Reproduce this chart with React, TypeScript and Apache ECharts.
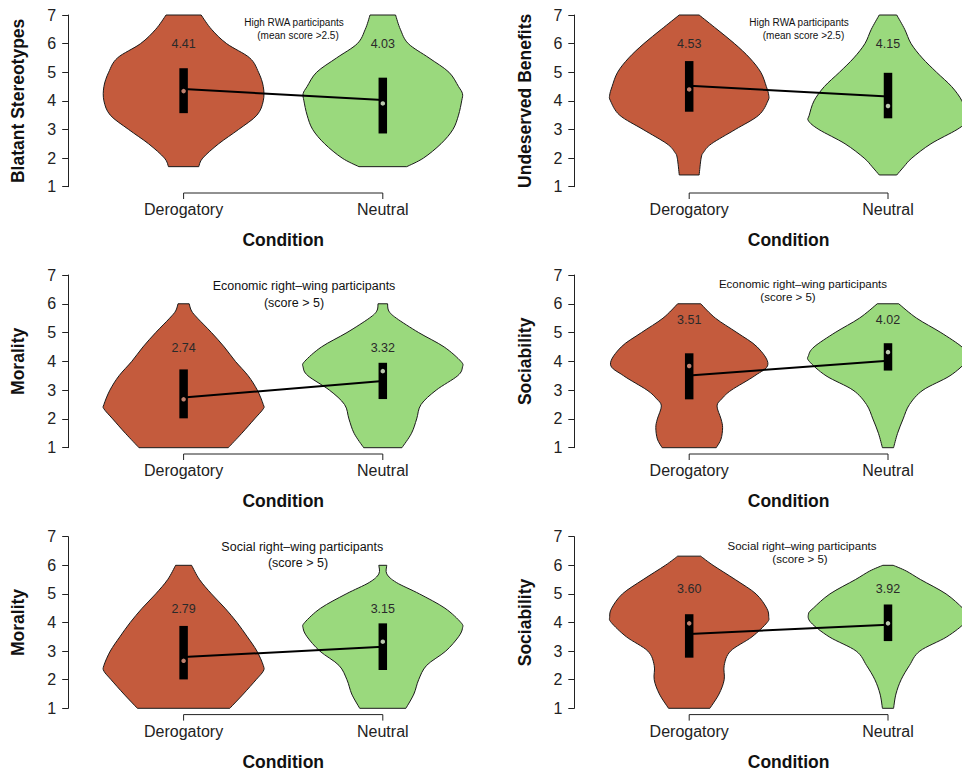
import React, { useEffect, useRef } from "react";
import * as echarts from "echarts";

// ---------------- data ----------------
const conditions = ["Derogatory", "Neutral"];
const yMin = 1;
const yMax = 7;

const panelYTitles = [
  "Blatant Stereotypes",
  "Undeserved Benefits",
  "Morality",
  "Sociability",
  "Morality",
  "Sociability",
];

const panelNotes = [
  ["High RWA participants", "(mean score >2.5)"],
  ["High RWA participants", "(mean score >2.5)"],
  ["Economic right\u2013wing participants", "(score > 5)"],
  ["Economic right\u2013wing participants", "(score > 5)"],
  ["Social right\u2013wing participants", "(score > 5)"],
  ["Social right\u2013wing participants", "(score > 5)"],
];

// means (Derogatory, Neutral) per panel
const means = [
  [4.41, 4.03],
  [4.53, 4.15],
  [2.74, 3.32],
  [3.51, 4.02],
  [2.79, 3.15],
  [3.6, 3.92],
];
// height (score units) at which each mean is printed
const meanLabelY = [
  [5.98, 5.98],
  [5.98, 5.98],
  [4.45, 4.45],
  [5.44, 5.44],
  [4.46, 4.46],
  [5.17, 5.17],
];
// box (interquartile) limits and medians
const boxLow = [
  [3.57, 2.86],
  [3.62, 3.39],
  [2.02, 2.69],
  [2.68, 3.68],
  [2.01, 2.34],
  [2.77, 3.35],
];
const boxHigh = [
  [5.14, 4.81],
  [5.39, 4.98],
  [3.72, 3.95],
  [4.28, 4.63],
  [3.88, 3.97],
  [4.29, 4.63],
];
const medians = [
  [4.34, 3.91],
  [4.4, 3.82],
  [2.68, 3.66],
  [3.84, 4.32],
  [2.66, 3.33],
  [3.97, 3.97],
];

// violin outlines: score levels and relative density (1 = widest point)
const blatantDerogLevels = [1.7, 2, 2.5, 3, 3.5, 4, 4.5, 5, 5.5, 6, 6.5, 7];
const blatantDerogDensity = [0.19, 0.24, 0.44, 0.69, 0.92, 1.0, 1.0, 0.94, 0.83, 0.54, 0.35, 0.22];
const blatantNeutLevels = [1.7, 2, 2.5, 3, 3.5, 4, 4.25, 4.5, 5, 5.5, 6, 6.5, 7];
const blatantNeutDensity = [0.3, 0.51, 0.73, 0.88, 0.95, 0.99, 1.0, 0.95, 0.83, 0.58, 0.32, 0.22, 0.16];

const benefitsDerogLevels = [1.41, 2, 2.2, 2.5, 3, 3.5, 4, 4.2, 4.5, 5, 5.5, 6, 6.5, 7];
const benefitsDerogDensity = [0.125, 0.15, 0.18, 0.28, 0.58, 0.875, 0.99, 1.0, 0.97, 0.9, 0.76, 0.57, 0.35, 0.125];
const benefitsNeutLevels = [1.41, 1.7, 2, 2.5, 3, 3.3, 3.5, 4, 4.5, 5, 5.5, 6, 6.5, 7];
const benefitsNeutDensity = [0.11, 0.2, 0.3, 0.54, 0.87, 1.0, 0.99, 0.93, 0.8, 0.61, 0.43, 0.29, 0.21, 0.11];

const econMoralDerogLevels = [1, 1.5, 2, 2.35, 2.5, 3, 3.5, 4, 4.5, 5, 5.5, 5.75, 6];
const econMoralDerogDensity = [0.56, 0.73, 0.89, 1.0, 1.0, 0.925, 0.81, 0.65, 0.51, 0.35, 0.175, 0.1, 0.07];
const econMoralNeutLevels = [1, 1.5, 2, 2.5, 3, 3.5, 3.8, 4, 4.5, 5, 5.5, 5.75, 6];
const econMoralNeutDensity = [0.24, 0.36, 0.425, 0.48, 0.67, 0.94, 1.0, 0.98, 0.77, 0.45, 0.17, 0.075, 0.06];

const econSocDerogLevels = [1, 1.3, 1.7, 2, 2.45, 2.7, 3, 3.5, 3.9, 4.5, 5, 5.5, 6];
const econSocDerogDensity = [0.34, 0.4, 0.42, 0.4, 0.35, 0.41, 0.53, 0.825, 0.99, 0.855, 0.6, 0.33, 0.145];
const econSocNeutLevels = [1, 1.5, 2, 2.5, 3, 3.5, 4, 4.2, 4.5, 5, 5.5, 6];
const econSocNeutDensity = [0.07, 0.12, 0.19, 0.27, 0.44, 0.78, 0.99, 1.0, 0.93, 0.665, 0.36, 0.135];

const socMoralDerogLevels = [1, 1.5, 2, 2.3, 2.5, 3, 3.5, 4, 4.5, 5, 5.5, 6];
const socMoralDerogDensity = [0.58, 0.75, 0.91, 1.0, 1.0, 0.92, 0.8, 0.67, 0.52, 0.35, 0.2, 0.1];
const socMoralNeutLevels = [1, 1.5, 2, 2.5, 3, 3.5, 3.8, 4, 4.5, 5, 5.4, 5.7, 6];
const socMoralNeutDensity = [0.29, 0.39, 0.45, 0.55, 0.79, 0.95, 1.0, 0.98, 0.78, 0.46, 0.17, 0.05, 0.05];

const socSocDerogLevels = [1, 1.5, 2, 2.5, 3, 3.5, 4, 4.2, 4.5, 5, 5.5, 6, 6.32];
const socSocDerogDensity = [0.26, 0.375, 0.44, 0.44, 0.52, 0.79, 0.98, 1.0, 0.975, 0.84, 0.58, 0.3, 0.145];
const socSocNeutLevels = [1, 1.5, 2, 2.5, 3, 3.5, 4, 4.3, 4.5, 5, 5.5, 5.8, 6];
const socSocNeutDensity = [0.07, 0.1, 0.165, 0.27, 0.4, 0.74, 0.97, 1.0, 0.94, 0.73, 0.41, 0.23, 0.065];

const violinLevels = [
  [blatantDerogLevels, blatantNeutLevels],
  [benefitsDerogLevels, benefitsNeutLevels],
  [econMoralDerogLevels, econMoralNeutLevels],
  [econSocDerogLevels, econSocNeutLevels],
  [socMoralDerogLevels, socMoralNeutLevels],
  [socSocDerogLevels, socSocNeutLevels],
];
const violinDensity = [
  [blatantDerogDensity, blatantNeutDensity],
  [benefitsDerogDensity, benefitsNeutDensity],
  [econMoralDerogDensity, econMoralNeutDensity],
  [econSocDerogDensity, econSocNeutDensity],
  [socMoralDerogDensity, socMoralNeutDensity],
  [socSocDerogDensity, socSocNeutDensity],
];

// ---------------- layout & style ----------------
const W = 962;
const H = 773;
const FONT = "'Liberation Sans', Arial, Helvetica, sans-serif";
const violinFill = ["#C45B3D", "#9AD97D"];
const medianFill = ["#F0A088", "#E8FAD8"];
const HALF_MAX = 0.4; // widest half-violin in category units
const BOX_W = 8.5;
const TITLE_SIZE = 17.5;

const cols = [
  { c1: 183.6, c2: 382.8, axisX: 68.2, titleX: 18 },
  { c1: 689.2, c2: 888.0, axisX: 574.3, titleX: 525 },
];
const rows = [
  { y7: 15, y1: 186.7 },
  { y7: 275, y1: 447.7 },
  { y7: 536.7, y1: 708.3 },
];
// annotation: [x1, y1, x2, y2, fontSize]
const noteLayout = [
  [294, 22.7, 298, 35, 10],
  [799, 22.7, 803.5, 35, 10],
  [304, 286, 294, 302.7, 12.5],
  [803, 284, 788, 297.3, 11.5],
  [302.3, 547.3, 298, 562.7, 12.5],
  [802, 546, 800, 559.3, 11.5],
];

function catmull(pts: number[][]): string {
  let s = "";
  for (let i = 0; i < pts.length - 1; i++) {
    const p0 = pts[i - 1] || pts[i];
    const p1 = pts[i];
    const p2 = pts[i + 1];
    const p3 = pts[i + 2] || pts[i + 1];
    const c1x = p1[0] + (p2[0] - p0[0]) / 6;
    const c1y = p1[1] + (p2[1] - p0[1]) / 6;
    const c2x = p2[0] - (p3[0] - p1[0]) / 6;
    const c2y = p2[1] - (p3[1] - p1[1]) / 6;
    s += `C${c1x.toFixed(2)},${c1y.toFixed(2)},${c2x.toFixed(2)},${c2y.toFixed(2)},${p2[0].toFixed(2)},${p2[1].toFixed(2)}`;
  }
  return s;
}

function buildOption() {
  const grid: any[] = [];
  const xAxis: any[] = [];
  const yAxis: any[] = [];
  const series: any[] = [];
  const graphic: any[] = [];

  for (let p = 0; p < 6; p++) {
    const col = cols[p % 2];
    const row = rows[Math.floor(p / 2)];
    const u = col.c2 - col.c1;
    const left = col.c1 - 0.5 * u;
    grid.push({
      left,
      top: row.y7,
      width: 2 * u,
      height: row.y1 - row.y7,
      outerBoundsMode: "none",
      containLabel: false,
    });

    xAxis.push({
      gridIndex: p,
      type: "value",
      min: 0.5,
      max: 2.5,
      interval: 0.5,
      axisLine: { show: false },
      axisTick: { show: false },
      splitLine: { show: false },
      axisLabel: {
        formatter: (v: number) => (v === 1 ? conditions[0] : v === 2 ? conditions[1] : ""),
        fontSize: 16,
        color: "#222",
        fontFamily: FONT,
        margin: 15,
      },
      name: "Condition",
      nameLocation: "middle",
      nameGap: 44.5,
      nameTextStyle: { fontSize: TITLE_SIZE, fontWeight: "bold", color: "#111", fontFamily: FONT },
    });

    yAxis.push({
      gridIndex: p,
      type: "value",
      min: yMin,
      max: yMax,
      interval: 1,
      offset: left - col.axisX,
      axisLine: { show: true, lineStyle: { color: "#222", width: 1 } },
      axisTick: { show: true, length: 6, lineStyle: { color: "#222", width: 1 } },
      splitLine: { show: false },
      axisLabel: { fontSize: 16, color: "#222", fontFamily: FONT, margin: 12 },
      name: panelYTitles[p],
      nameLocation: "middle",
      nameGap: col.axisX - col.titleX - 9,
      nameTextStyle: { fontSize: TITLE_SIZE, fontWeight: "bold", color: "#111", fontFamily: FONT },
    });

    // violins
    series.push({
      type: "custom",
      xAxisIndex: p,
      yAxisIndex: p,
      z: 2,
      silent: true,
      data: [[1, 0], [2, 1]],
      renderItem: (params: any, api: any) => {
        const i = params.dataIndex;
        const cx = i + 1;
        const lv = violinLevels[p][i];
        const dn = violinDensity[p][i];
        const leftPts = lv.map((v, k) => api.coord([cx - HALF_MAX * dn[k], v]));
        const rightPts = lv.map((v, k) => api.coord([cx + HALF_MAX * dn[k], v])).reverse();
        const d =
          `M${leftPts[0][0]},${leftPts[0][1]}` +
          catmull(leftPts) +
          `L${rightPts[0][0]},${rightPts[0][1]}` +
          catmull(rightPts) +
          "Z";
        return {
          type: "path",
          shape: { pathData: d },
          style: { fill: violinFill[i], stroke: "#1a1a1a", lineWidth: 1 },
        };
      },
    });

    // line joining the means
    series.push({
      type: "line",
      xAxisIndex: p,
      yAxisIndex: p,
      z: 3,
      silent: true,
      symbol: "none",
      data: [
        [1, means[p][0]],
        [2, means[p][1]],
      ],
      lineStyle: { color: "#000", width: 2 },
    });

    // interquartile boxes
    series.push({
      type: "custom",
      xAxisIndex: p,
      yAxisIndex: p,
      z: 4,
      silent: true,
      data: [
        [1, boxLow[p][0], boxHigh[p][0]],
        [2, boxLow[p][1], boxHigh[p][1]],
      ],
      renderItem: (params: any, api: any) => {
        const top = api.coord([api.value(0), api.value(2)]);
        const bot = api.coord([api.value(0), api.value(1)]);
        return {
          type: "rect",
          shape: { x: top[0] - BOX_W / 2, y: top[1], width: BOX_W, height: bot[1] - top[1] },
          style: { fill: "#000" },
        };
      },
    });

    // medians
    series.push({
      type: "scatter",
      xAxisIndex: p,
      yAxisIndex: p,
      z: 5,
      silent: true,
      symbol: "circle",
      symbolSize: 4.5,
      data: [
        { value: [1, medians[p][0]], itemStyle: { color: medianFill[0] } },
        { value: [2, medians[p][1]], itemStyle: { color: medianFill[1] } },
      ],
    });

    // mean labels
    series.push({
      type: "custom",
      xAxisIndex: p,
      yAxisIndex: p,
      z: 5,
      silent: true,
      data: [
        [1, meanLabelY[p][0], means[p][0]],
        [2, meanLabelY[p][1], means[p][1]],
      ],
      renderItem: (params: any, api: any) => {
        const pt = api.coord([api.value(0), api.value(1)]);
        return {
          type: "text",
          x: pt[0],
          y: pt[1],
          style: {
            text: Number(api.value(2)).toFixed(2),
            fill: "#2a2a2a",
            fontSize: 12.5,
            fontFamily: FONT,
            align: "center",
            verticalAlign: "middle",
          },
        };
      },
    });

    // x-axis bracket between the two conditions
    series.push({
      type: "custom",
      xAxisIndex: p,
      yAxisIndex: p,
      z: 2,
      silent: true,
      data: [[1, yMin]],
      renderItem: (params: any, api: any) => {
        const a = api.coord([1, yMin]);
        const b = api.coord([2, yMin]);
        const yb = a[1] + 6.3;
        return {
          type: "polyline",
          shape: {
            points: [
              [a[0], yb + 6],
              [a[0], yb],
              [b[0], yb],
              [b[0], yb + 6],
            ],
          },
          style: { stroke: "#222", lineWidth: 1, fill: "none" },
        };
      },
    });

    const nl = noteLayout[p];
    graphic.push({
      type: "text",
      x: nl[0],
      y: nl[1],
      silent: true,
      style: {
        text: panelNotes[p][0],
        fill: "#111",
        fontSize: nl[4],
        fontFamily: FONT,
        align: "center",
        verticalAlign: "middle",
      },
    });
    graphic.push({
      type: "text",
      x: nl[2],
      y: nl[3],
      silent: true,
      style: {
        text: panelNotes[p][1],
        fill: "#111",
        fontSize: nl[4],
        fontFamily: FONT,
        align: "center",
        verticalAlign: "middle",
      },
    });
  }

  return {
    animation: false,
    backgroundColor: "#ffffff",
    grid,
    xAxis,
    yAxis,
    series,
    graphic,
  };
}

export default function App() {
  const ref = useRef<HTMLDivElement>(null);
  useEffect(() => {
    if (!ref.current) return;
    const chart = echarts.init(ref.current, null, { renderer: "svg" });
    chart.setOption(buildOption() as any);
    return () => chart.dispose();
  }, []);
  return (
    <div
      ref={ref}
      style={{ position: "fixed", left: 0, top: 0, width: W, height: H, background: "#fff" }}
    />
  );
}
